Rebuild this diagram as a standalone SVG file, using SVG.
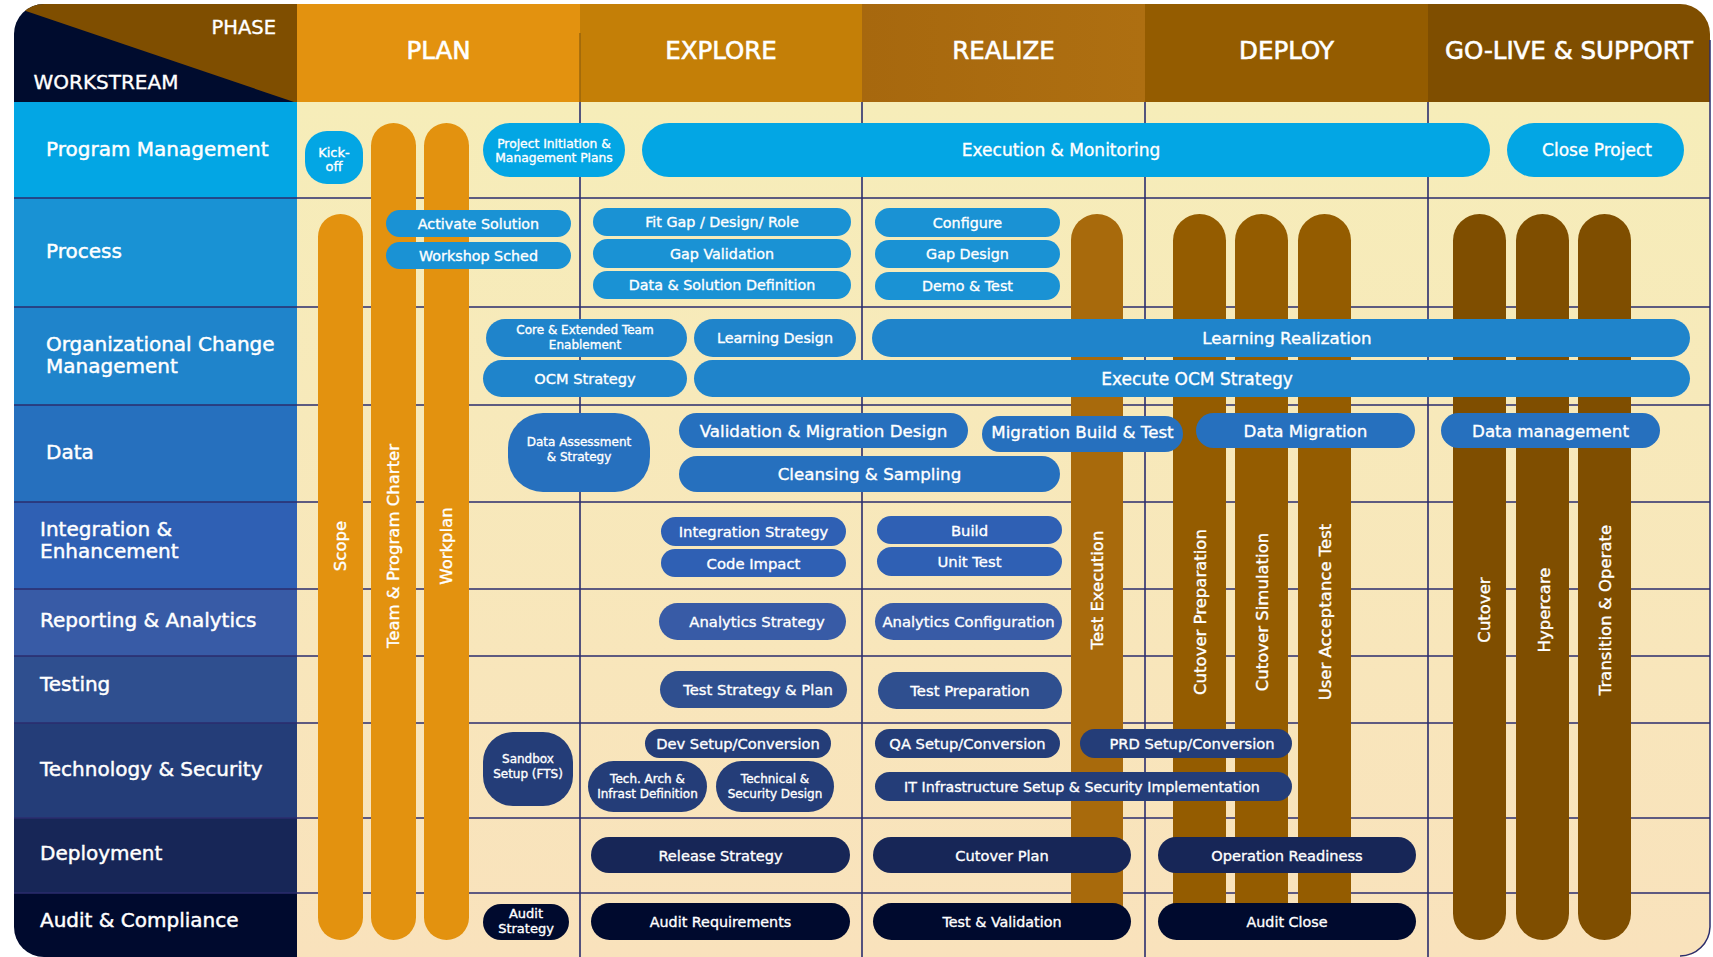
<svg xmlns="http://www.w3.org/2000/svg" width="1713" height="957" viewBox="0 0 1713 957">
<defs>
<clipPath id="frame"><rect x="14" y="4" width="1696" height="953" rx="30" ry="30"/></clipPath>
<linearGradient id="bg" x1="0" y1="0" x2="0" y2="1">
<stop offset="0" stop-color="#F6EDB9"/><stop offset="1" stop-color="#F9E2BC"/>
</linearGradient>
<linearGradient id="rz" x1="0" y1="0" x2="1" y2="0">
<stop offset="0" stop-color="#A7680E"/><stop offset="1" stop-color="#AE6F11"/>
</linearGradient>
<style>
text{font-family:"DejaVu Sans","Noto Sans",sans-serif;fill:#fff;stroke:#fff;stroke-width:0.35px}
.lbl{font-size:20px;stroke-width:0.45px}
.ph{font-size:24.5px;text-anchor:middle;stroke-width:0.6px}
.t{text-anchor:middle;dominant-baseline:central}
.grid{stroke:#2B2D6E;stroke-width:1.6;fill:none}
.pm{fill:#03A6E4}.pr{fill:#1A92D4}.oc{fill:#1F84CB}.da{fill:#2670BE}.ie{fill:#2F60B4}
.ra{fill:#385BA6}.te{fill:#2F4F8F}.ts{fill:#243D78}.de{fill:#172657}.au{fill:#000A2E}
.bP{fill:#E3920F}.bR{fill:#A86A0C}.bD{fill:#945C00}.bG{fill:#7F4E00}
.vt{font-size:16.5px;text-anchor:middle;dominant-baseline:central}
</style>
</defs>
<g clip-path="url(#frame)">
<g id="header">
<rect x="14" y="4" width="283" height="98" fill="#000C2E"/>
<polygon points="14,4 297,4 297,103 14,7" fill="#7F4E00"/>
<rect x="297" y="4" width="283" height="98" fill="#E3920F"/>
<rect x="580" y="4" width="282" height="98" fill="#C47F07"/>
<rect x="862" y="4" width="283" height="98" fill="url(#rz)"/>
<rect x="1145" y="4" width="283" height="98" fill="#945C00"/>
<rect x="1428" y="4" width="283" height="98" fill="#7F4E00"/>
<line x1="580" y1="33" x2="580" y2="102" stroke="#9A650C" stroke-width="1.5"/>
<text x="276" y="34" font-size="19.5" text-anchor="end" stroke-width="0.5">PHASE</text>
<text x="33.5" y="89" font-size="20" stroke-width="0.5">WORKSTREAM</text>
<text class="ph" x="438.5" y="59">PLAN</text>
<text class="ph" x="721" y="59">EXPLORE</text>
<text class="ph" x="1003.5" y="59">REALIZE</text>
<text class="ph" x="1286.5" y="59">DEPLOY</text>
<text class="ph" x="1569" y="59">GO-LIVE &amp; SUPPORT</text>
</g>
<g id="workstreams">
<rect x="14" y="102" width="283" height="96" fill="#03A6E4"/>
<rect x="14" y="198" width="283" height="109" fill="#1992D4"/>
<rect x="14" y="307" width="283" height="98" fill="#1F84CB"/>
<rect x="14" y="405" width="283" height="97" fill="#2670BE"/>
<rect x="14" y="502" width="283" height="87" fill="#2F60B4"/>
<rect x="14" y="589" width="283" height="67" fill="#385BA6"/>
<rect x="14" y="656" width="283" height="67" fill="#2F4F8F"/>
<rect x="14" y="723" width="283" height="95" fill="#243D78"/>
<rect x="14" y="818" width="283" height="75" fill="#172657"/>
<rect x="14" y="893" width="283" height="64" fill="#000A2E"/>
<text class="lbl" x="46" y="156">Program Management</text>
<text class="lbl" x="46" y="258">Process</text>
<text class="lbl" x="46" y="351">Organizational Change</text>
<text class="lbl" x="46" y="373">Management</text>
<text class="lbl" x="46" y="459">Data</text>
<text class="lbl" x="40" y="536">Integration &amp;</text>
<text class="lbl" x="40" y="558">Enhancement</text>
<text class="lbl" x="40" y="627">Reporting &amp; Analytics</text>
<text class="lbl" x="40" y="691">Testing</text>
<text class="lbl" x="40" y="776">Technology &amp; Security</text>
<text class="lbl" x="40" y="860">Deployment</text>
<text class="lbl" x="40" y="927">Audit &amp; Compliance</text>
</g>
<rect x="297" y="102" width="1414" height="855" fill="url(#bg)"/>
<g id="grid" class="grid">
<path d="M14 198H1711M14 307H1711M14 405H1711M14 502H1711M14 589H1711M14 656H1711M14 723H1711M14 818H1711M14 893H1711"/>
<path d="M580 102V957M862 102V957M1145 102V957M1428 102V957"/>
</g>
</g>
<path d="M1710 40V927A30 30 0 0 1 1680 956" fill="none" stroke="#2B2D6E" stroke-width="1.5"/>

<g id="bars">
<g id="bar-scope"><rect class="bP" x="318" y="214" width="45" height="726" rx="22.5"/><text class="vt" transform="translate(340.5,546) rotate(-90)">Scope</text></g>
<g id="bar-team"><rect class="bP" x="371" y="123" width="45" height="817" rx="22.5"/><text class="vt" transform="translate(393.5,546) rotate(-90)">Team &amp; Program Charter</text></g>
<g id="bar-workplan"><rect class="bP" x="424" y="123" width="45" height="817" rx="22.5"/><text class="vt" transform="translate(446.5,546) rotate(-90)">Workplan</text></g>
<g id="bar-testexec"><rect class="bR" x="1071" y="214" width="52" height="726" rx="26"/><text class="vt" transform="translate(1097,590) rotate(-90)">Test Execution</text></g>
<g id="bar-cutprep"><rect class="bD" x="1173" y="214" width="53" height="726" rx="26.5"/><text class="vt" transform="translate(1200,612) rotate(-90)">Cutover Preparation</text></g>
<g id="bar-cutsim"><rect class="bD" x="1235" y="214" width="53" height="726" rx="26.5"/><text class="vt" transform="translate(1262,612) rotate(-90)">Cutover Simulation</text></g>
<g id="bar-uat"><rect class="bD" x="1298" y="214" width="53" height="726" rx="26.5"/><text class="vt" transform="translate(1325,612) rotate(-90)">User Acceptance Test</text></g>
<g id="bar-cutover"><rect class="bG" x="1453" y="214" width="53" height="726" rx="26.5"/><text class="vt" transform="translate(1484.5,610) rotate(-90)">Cutover</text></g>
<g id="bar-hypercare"><rect class="bG" x="1516" y="214" width="53" height="726" rx="26.5"/><text class="vt" transform="translate(1544,610) rotate(-90)">Hypercare</text></g>
<g id="bar-transition"><rect class="bG" x="1578" y="214" width="53" height="726" rx="26.5"/><text class="vt" transform="translate(1605,610) rotate(-90)">Transition &amp; Operate</text></g>
</g>

<g id="program">
<g id="kickoff"><rect class="pm" x="305" y="131" width="58" height="53" rx="22"/><text class="t" x="334" y="152" font-size="13">Kick-</text><text class="t" x="334" y="166" font-size="13">off</text></g>
<g id="projinit"><rect class="pm" x="483" y="123" width="142" height="54" rx="27"/><text class="t" x="554" y="144" font-size="12.3">Project Initiation &amp;</text><text class="t" x="554" y="158" font-size="12.3">Management Plans</text></g>
<g id="exec"><rect class="pm" x="642" y="123" width="848" height="54" rx="27"/><text class="t" x="1061" y="150" font-size="17">Execution &amp; Monitoring</text></g>
<g id="close"><rect class="pm" x="1507" y="123" width="177" height="54" rx="27"/><text class="t" x="1597" y="150" font-size="17">Close Project</text></g>
</g>

<g id="process" font-size="14.3">
<g id="activate"><rect class="pr" x="386" y="210" width="185" height="27" rx="13.5"/><text class="t" x="478.5" y="224">Activate Solution</text></g>
<g id="workshop"><rect class="pr" x="386" y="242" width="185" height="27" rx="13.5"/><text class="t" x="478.5" y="256">Workshop Sched</text></g>
<g id="fitgap"><rect class="pr" x="593" y="208" width="258" height="28" rx="14"/><text class="t" x="722" y="222">Fit Gap / Design/ Role</text></g>
<g id="gapval"><rect class="pr" x="593" y="239" width="258" height="29" rx="14.5"/><text class="t" x="722" y="253.5">Gap Validation</text></g>
<g id="datasol"><rect class="pr" x="593" y="271" width="258" height="28" rx="14"/><text class="t" x="722" y="285">Data &amp; Solution Definition</text></g>
<g id="configure"><rect class="pr" x="875" y="208" width="185" height="29" rx="14.5"/><text class="t" x="967.5" y="222.5">Configure</text></g>
<g id="gapdesign"><rect class="pr" x="875" y="240" width="185" height="28" rx="14"/><text class="t" x="967.5" y="254">Gap Design</text></g>
<g id="demotest"><rect class="pr" x="875" y="272" width="185" height="28" rx="14"/><text class="t" x="967.5" y="286">Demo &amp; Test</text></g>
</g>

<g id="ocm">
<g id="coreteam"><rect class="oc" x="486" y="319" width="201" height="38" rx="19"/><text class="t" x="585" y="330" font-size="12">Core &amp; Extended Team</text><text class="t" x="585" y="345" font-size="12">Enablement</text></g>
<g id="ocmstrat"><rect class="oc" x="483" y="360" width="204" height="37" rx="18.5"/><text class="t" x="585" y="378.5" font-size="14.6">OCM Strategy</text></g>
<g id="learndesign"><rect class="oc" x="694" y="319" width="162" height="38" rx="19"/><text class="t" x="775" y="338" font-size="14.3">Learning Design</text></g>
<g id="learnreal"><rect class="oc" x="872" y="319" width="818" height="38" rx="19"/><text class="t" x="1287" y="338" font-size="16.7">Learning Realization</text></g>
<g id="execocm"><rect class="oc" x="694" y="360" width="996" height="37" rx="18.5"/><text class="t" x="1197" y="378.5" font-size="17">Execute OCM Strategy</text></g>
</g>

<g id="data" font-size="16.7">
<g id="dataassess"><rect class="da" x="508" y="413" width="142" height="79" rx="35"/><text class="t" x="579" y="442" font-size="12">Data Assessment</text><text class="t" x="579" y="457" font-size="12">&amp; Strategy</text></g>
<g id="valmig"><rect class="da" x="679" y="413" width="289" height="35" rx="17.5"/><text class="t" x="823.5" y="430.5">Validation &amp; Migration Design</text></g>
<g id="migbuild"><rect class="da" x="982" y="416" width="201" height="36" rx="18"/><text class="t" x="1082.5" y="432">Migration Build &amp; Test</text></g>
<g id="cleansing"><rect class="da" x="679" y="456" width="381" height="36" rx="18"/><text class="t" x="869.5" y="474">Cleansing &amp; Sampling</text></g>
<g id="datamig"><rect class="da" x="1196" y="413" width="219" height="35" rx="17.5"/><text class="t" x="1305.5" y="430.5">Data Migration</text></g>
<g id="datamgmt"><rect class="da" x="1441" y="413" width="219" height="35" rx="17.5"/><text class="t" x="1550.5" y="430.5">Data management</text></g>
</g>

<g id="integration" font-size="14.8">
<g id="intstrat"><rect class="ie" x="661" y="517" width="185" height="29" rx="14.5"/><text class="t" x="753.5" y="531.5">Integration Strategy</text></g>
<g id="codeimpact"><rect class="ie" x="661" y="549" width="185" height="28" rx="14"/><text class="t" x="753.5" y="563">Code Impact</text></g>
<g id="build"><rect class="ie" x="877" y="516" width="185" height="28" rx="14"/><text class="t" x="969.5" y="530">Build</text></g>
<g id="unittest"><rect class="ie" x="877" y="547" width="185" height="29" rx="14.5"/><text class="t" x="969.5" y="561.5">Unit Test</text></g>
</g>

<g id="reporting" font-size="14.8">
<g id="anstrat"><rect class="ra" x="659" y="603" width="187" height="37" rx="18.5"/><text class="t" x="757" y="621.5">Analytics Strategy</text></g>
<g id="anconf"><rect class="ra" x="875" y="603" width="187" height="37" rx="18.5"/><text class="t" x="968.5" y="621.5">Analytics Configuration</text></g>
</g>

<g id="testing" font-size="14.8">
<g id="teststrat"><rect class="te" x="660" y="671" width="187" height="37" rx="18.5"/><text class="t" x="758" y="689.5">Test Strategy &amp; Plan</text></g>
<g id="testprep"><rect class="te" x="878" y="672" width="184" height="37" rx="18.5"/><text class="t" x="970" y="690.5">Test Preparation</text></g>
</g>

<g id="techsec" font-size="14.7">
<g id="sandbox"><rect class="ts" x="483" y="732" width="90" height="74" rx="30"/><text class="t" x="528" y="759" font-size="12">Sandbox</text><text class="t" x="528" y="774" font-size="12">Setup (FTS)</text></g>
<g id="devsetup"><rect class="ts" x="645" y="729" width="186" height="29" rx="14.5"/><text class="t" x="738" y="743.5">Dev Setup/Conversion</text></g>
<g id="techarch"><rect class="ts" x="588" y="761" width="119" height="51" rx="25.5"/><text class="t" x="647.5" y="779" font-size="12">Tech. Arch &amp;</text><text class="t" x="647.5" y="794" font-size="12">Infrast Definition</text></g>
<g id="techsecdesign"><rect class="ts" x="716" y="761" width="118" height="51" rx="25.5"/><text class="t" x="775" y="779" font-size="12">Technical &amp;</text><text class="t" x="775" y="794" font-size="12">Security Design</text></g>
<g id="qasetup"><rect class="ts" x="875" y="729" width="185" height="29" rx="14.5"/><text class="t" x="967.5" y="743.5">QA Setup/Conversion</text></g>
<g id="prdsetup"><rect class="ts" x="1080" y="729" width="212" height="29" rx="14.5"/><text class="t" x="1192" y="743.5">PRD Setup/Conversion</text></g>
<g id="itinfra"><rect class="ts" x="875" y="772" width="417" height="29" rx="14.5"/><text class="t" x="1082" y="786.5" font-size="14.2">IT Infrastructure Setup &amp; Security Implementation</text></g>
</g>

<g id="deployment" font-size="14.6">
<g id="release"><rect class="de" x="591" y="837" width="259" height="36" rx="18"/><text class="t" x="720.5" y="855">Release Strategy</text></g>
<g id="cutoverplan"><rect class="de" x="873" y="837" width="258" height="36" rx="18"/><text class="t" x="1002" y="855">Cutover Plan</text></g>
<g id="opready"><rect class="de" x="1158" y="837" width="258" height="36" rx="18"/><text class="t" x="1287" y="855">Operation Readiness</text></g>
</g>

<g id="audit" font-size="14.3">
<g id="auditstrat"><rect class="au" x="483" y="904" width="86" height="36" rx="18"/><text class="t" x="526" y="913" font-size="13">Audit</text><text class="t" x="526" y="928" font-size="13">Strategy</text></g>
<g id="auditreq"><rect class="au" x="591" y="903" width="259" height="37" rx="18.5"/><text class="t" x="720.5" y="921.5">Audit Requirements</text></g>
<g id="testval"><rect class="au" x="873" y="903" width="258" height="37" rx="18.5"/><text class="t" x="1002" y="921.5">Test &amp; Validation</text></g>
<g id="auditclose"><rect class="au" x="1158" y="903" width="258" height="37" rx="18.5"/><text class="t" x="1287" y="921.5">Audit Close</text></g>
</g>
<g id="connectors"/>
</svg>
